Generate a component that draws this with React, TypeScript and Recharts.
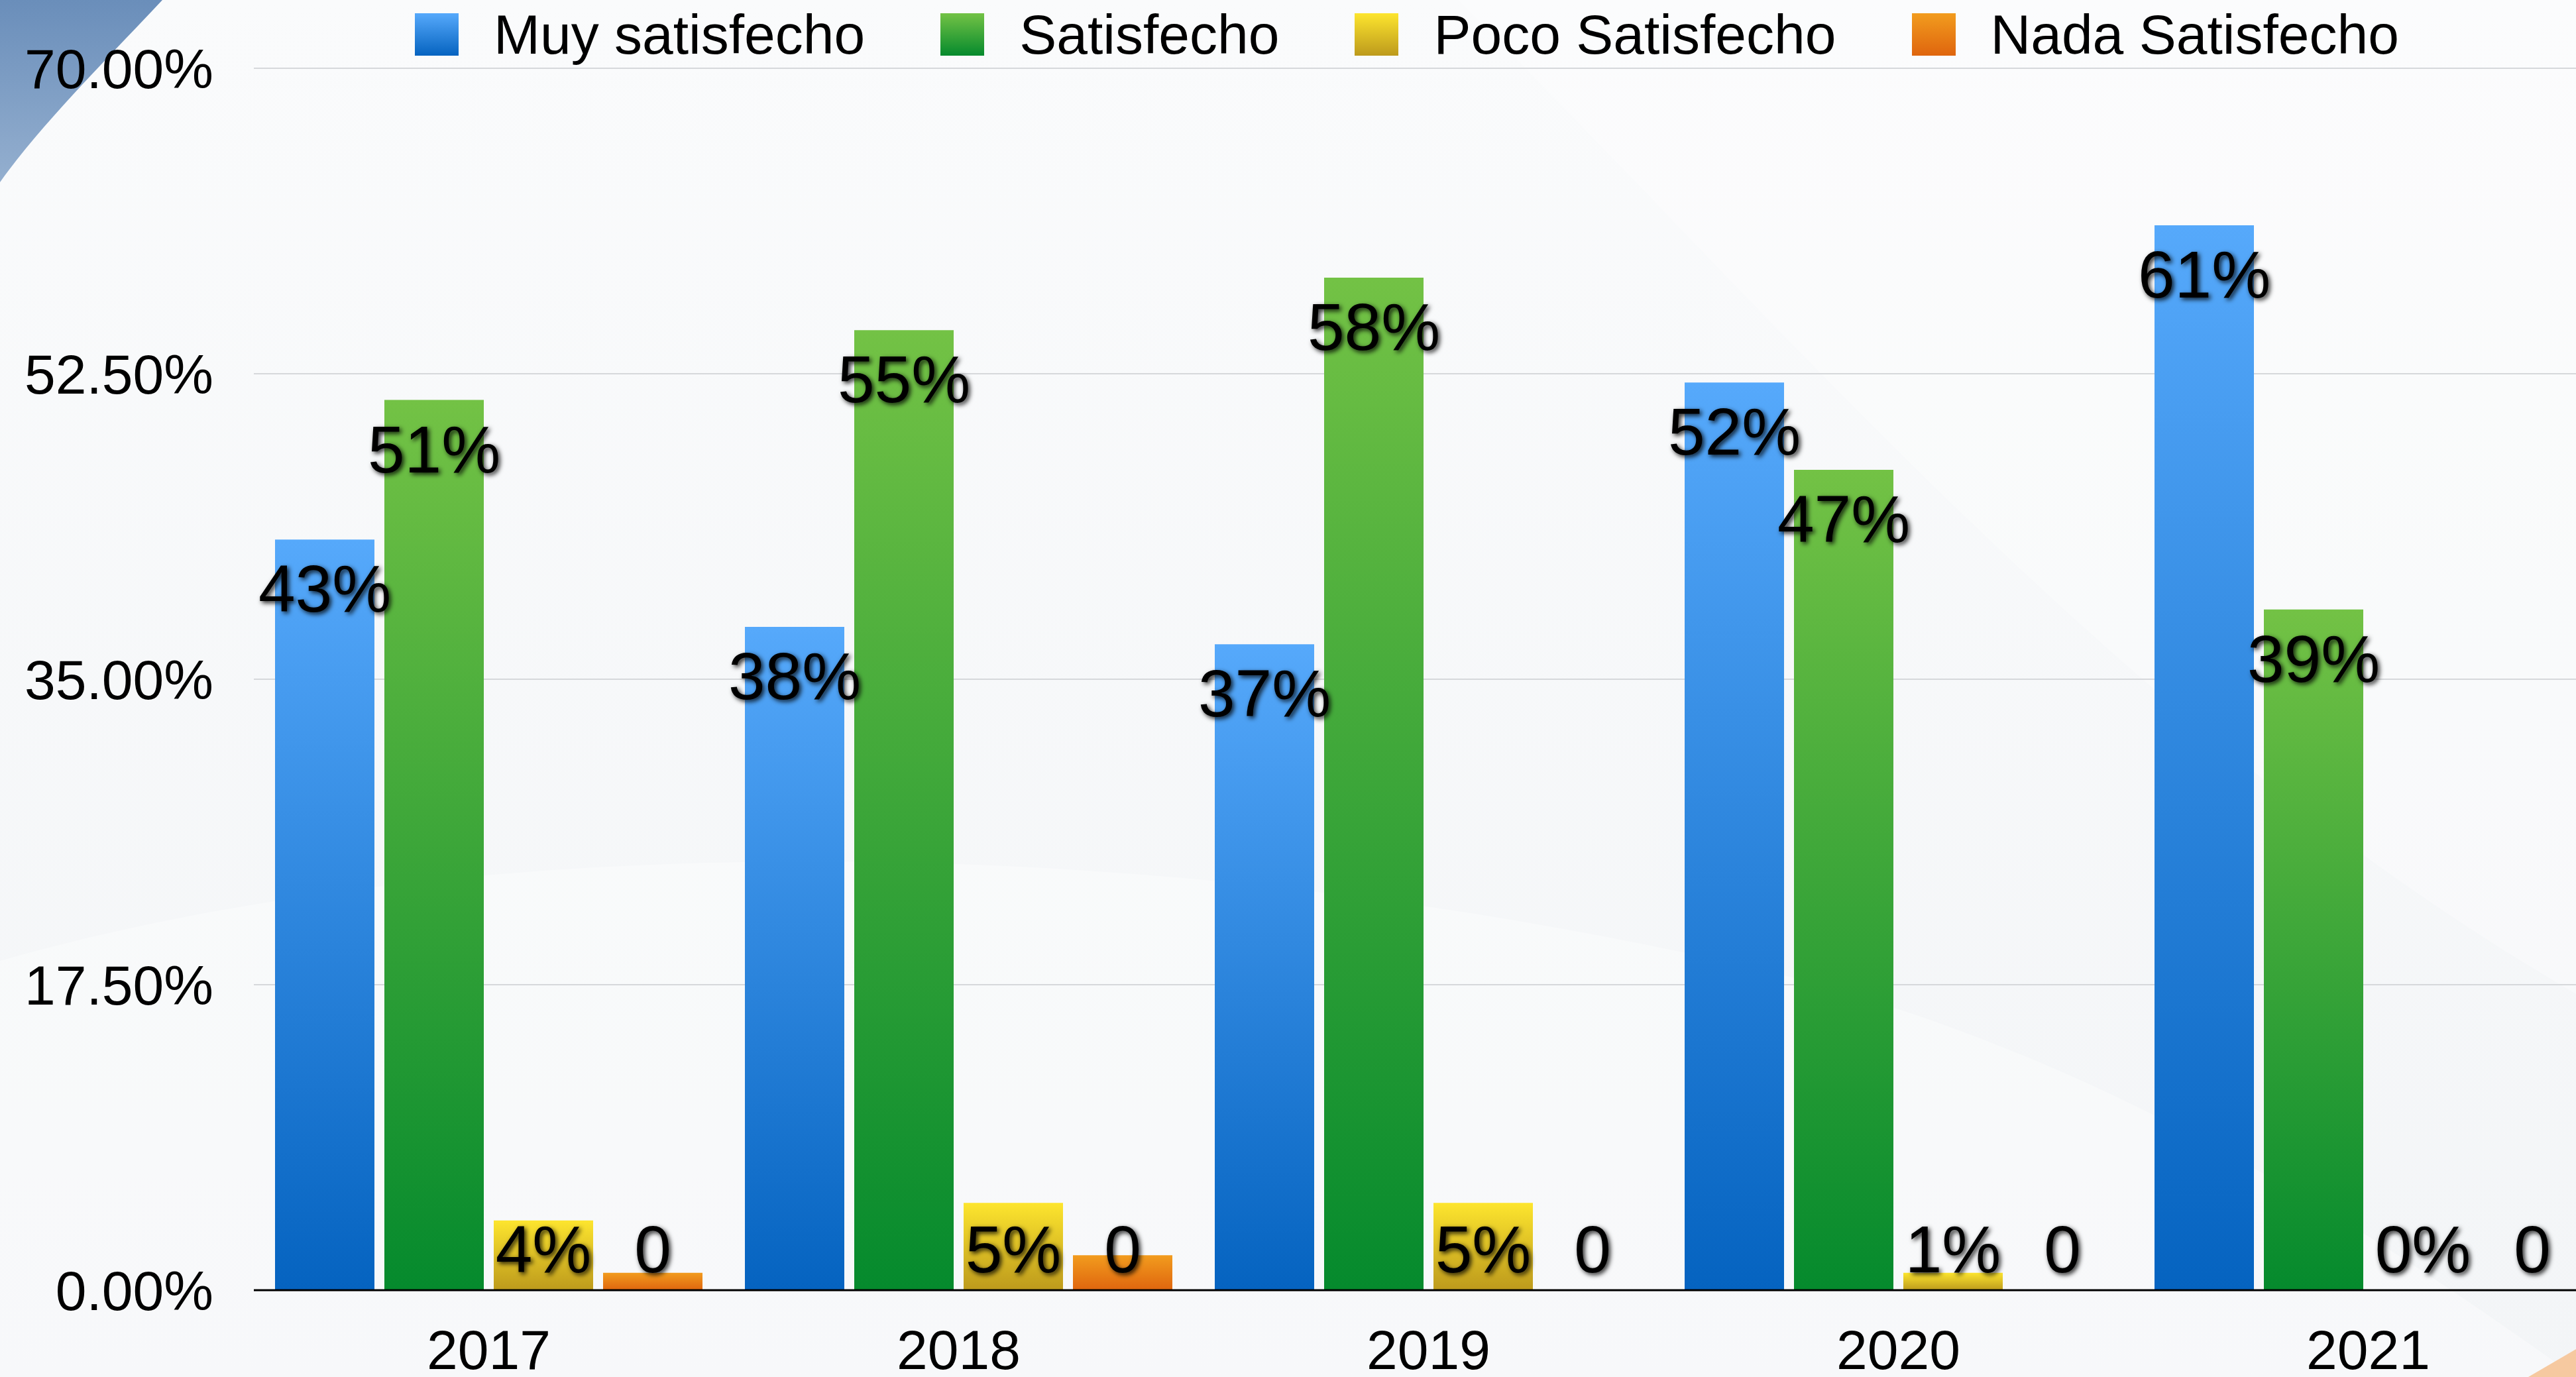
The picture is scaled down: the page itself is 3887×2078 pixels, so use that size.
import { BarChart, Bar, XAxis, YAxis, CartesianGrid, Legend, LabelList } from 'recharts';

// Encuesta de satisfacción 2017–2021, grouped bars with value labels.

const years = ['2017', '2018', '2019', '2020', '2021'];

const muySatisfecho = [43, 38, 37, 52, 61];
const satisfecho = [51, 55, 58, 47, 39];
const pocoSatisfecho = [4, 5, 5, 1, 0];
const nadaSatisfecho = [1, 2, 0, 0, 0];

const muyLabels = ['43%', '38%', '37%', '52%', '61%'];
const satLabels = ['51%', '55%', '58%', '47%', '39%'];
const pocoLabels = ['4%', '5%', '5%', '1%', '0%'];
const nadaLabels = ['0', '0', '0', '0', '0'];

const yTicks = [0, 17.5, 35, 52.5, 70];

const FONT = '"Liberation Sans", Arial, Helvetica, sans-serif';

const SERIES = [
  { key: 'muy', name: 'Muy satisfecho', top: '#56a9fb', bottom: '#0563c0' },
  { key: 'sat', name: 'Satisfecho', top: '#73c245', bottom: '#058a2d' },
  { key: 'poco', name: 'Poco Satisfecho', top: '#fde52e', bottom: '#bd9a1c' },
  { key: 'nada', name: 'Nada Satisfecho', top: '#f29c1e', bottom: '#df650e' },
];

const data = years.map((year, i) => ({
  year,
  muy: muySatisfecho[i],
  sat: satisfecho[i],
  poco: pocoSatisfecho[i],
  nada: nadaSatisfecho[i],
  muyLabel: muyLabels[i],
  satLabel: satLabels[i],
  pocoLabel: pocoLabels[i],
  nadaLabel: nadaLabels[i],
}));

function ValueLabel(props: any) {
  const vb = props.viewBox ?? props;
  const x = Number(vb.x ?? props.x);
  const y = Number(vb.y ?? props.y);
  const w = Number(vb.width ?? props.width);
  const h = Number(vb.height ?? props.height ?? 0);
  // inside the bar near its top, but never lower than just above the axis
  const baseline = Math.min(y + 109, y + h - 27);
  return (
    <text
      x={x + w / 2}
      y={baseline}
      textAnchor="middle"
      fontSize={100}
      fontFamily={FONT}
      fill="#000"
      filter="url(#labelShadow)"
    >
      {props.value}
    </text>
  );
}

function LegendRow() {
  return (
    <div style={{ display: 'flex', alignItems: 'center', height: 84, fontFamily: FONT }}>
      {SERIES.map((s, i) => (
        <div key={s.key} style={{ display: 'flex', alignItems: 'center', marginRight: i < SERIES.length - 1 ? 114 : 0 }}>
          <span
            style={{
              display: 'inline-block',
              width: 66,
              height: 64,
              background: `linear-gradient(to bottom, ${s.top}, ${s.bottom})`,
              marginRight: 53,
            }}
          />
          <span style={{ fontSize: 84, lineHeight: '84px', color: '#000', whiteSpace: 'nowrap' }}>{s.name}</span>
        </div>
      ))}
    </div>
  );
}

function Backdrop() {
  return (
    <svg width={3887} height={2078} style={{ position: 'absolute', left: 0, top: 0 }}>
      <defs>
        <linearGradient id="bgFill" x1="0" y1="0" x2="0" y2="1">
          <stop offset="0%" stopColor="#fafbfc" />
          <stop offset="100%" stopColor="#f3f5f7" />
        </linearGradient>
        <linearGradient id="cornerBlue" x1="0" y1="0" x2="0" y2="1">
          <stop offset="0%" stopColor="#6a8eba" />
          <stop offset="100%" stopColor="#94afcf" />
        </linearGradient>
      </defs>
      <rect width={3887} height={2078} fill="url(#bgFill)" />
      <path
        d="M0 1450 C 700 1250, 1700 1250, 2600 1450 C 3100 1560, 3500 1800, 3887 2078 L 0 2078 Z"
        fill="#ffffff"
        opacity={0.35}
      />
      <path d="M2200 0 C 2700 500, 3200 1100, 3887 1500 L 3887 0 Z" fill="#ffffff" opacity={0.3} />
      <path d="M0 0 L245 0 C 170 80, 60 190, 0 275 Z" fill="url(#cornerBlue)" />
      <path d="M3815 2078 L3887 2078 L3887 2036 Z" fill="#f6c9a0" />
    </svg>
  );
}

export default function App() {
  return (
    <div
      style={{
        position: 'absolute',
        left: 0,
        top: 0,
        width: 3887,
        height: 2078,
        overflow: 'hidden',
        background: '#f8f9fb',
      }}
    >
      <Backdrop />
      <div style={{ position: 'absolute', left: 0, top: 0 }}>
        <BarChart
          width={3960}
          height={2078}
          data={data}
          margin={{ top: 103, right: 32, bottom: 0, left: 0 }}
          barCategoryGap={32}
          barGap={15}
        >
          <defs>
            <filter id="labelShadow" x="-20%" y="-20%" width="140%" height="140%">
              <feDropShadow dx={3} dy={3} stdDeviation={3.5} floodColor="#000" floodOpacity={0.85} />
            </filter>
            {SERIES.map((s) => (
              <linearGradient key={s.key} id={`grad-${s.key}`} x1="0" y1="0" x2="0" y2="1">
                <stop offset="0%" stopColor={s.top} />
                <stop offset="100%" stopColor={s.bottom} />
              </linearGradient>
            ))}
          </defs>
          <CartesianGrid vertical={false} stroke="#d6d8db" strokeWidth={2} />
          <XAxis
            dataKey="year"
            height={131}
            tickLine={false}
            tickSize={6}
            tickMargin={53}
            axisLine={{ stroke: '#000', strokeWidth: 3 }}
            tick={{ fill: '#000', fontSize: 84, fontFamily: FONT }}
          />
          <YAxis
            width={383}
            domain={[0, 70]}
            ticks={yTicks}
            interval={0}
            tickFormatter={(v: number) => `${v.toFixed(2)}%`}
            axisLine={false}
            tickLine={false}
            tickSize={6}
            tickMargin={55}
            tick={{ fill: '#000', fontSize: 84, fontFamily: FONT }}
          />
          <Legend
            layout="horizontal"
            verticalAlign="middle"
            align="center"
            wrapperStyle={{ left: 626, top: 10, width: 3200, height: 84 }}
            content={() => <LegendRow />}
          />
          {SERIES.map((s) => (
            <Bar
              key={s.key}
              dataKey={s.key}
              name={s.name}
              fill={`url(#grad-${s.key})`}
              minPointSize={0.01}
              isAnimationActive={false}
            >
              <LabelList dataKey={`${s.key}Label`} content={<ValueLabel />} />
            </Bar>
          ))}
        </BarChart>
      </div>
    </div>
  );
}
